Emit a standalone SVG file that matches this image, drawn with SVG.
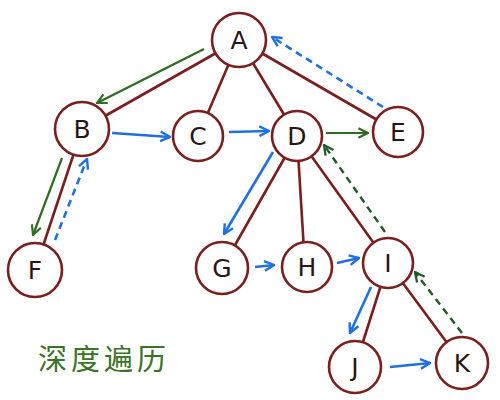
<svg xmlns="http://www.w3.org/2000/svg" width="500" height="400" viewBox="0 0 500 400">
<style>
.edge{stroke:#7a1e1e;stroke-width:2.6;fill:none;stroke-linecap:round}
.node circle{fill:#fff;stroke:#7a1e1e;stroke-width:2.6}
.node text{font-family:"DejaVu Sans","Liberation Sans",sans-serif;font-size:25px;fill:#2a1414;text-anchor:middle;dominant-baseline:central}
.g{stroke:#2f6b22;stroke-width:2.2;fill:none;marker-end:url(#mg)}
.b{stroke:#1f6fe5;stroke-width:2.6;fill:none;marker-end:url(#mb)}
.bd{stroke:#1f6fe5;stroke-width:2.6;fill:none;stroke-dasharray:7 5;marker-end:url(#mb)}
.gd{stroke:#1f5a26;stroke-width:2.4;fill:none;stroke-dasharray:7 5;marker-end:url(#mgd)}
.title{font-family:"Noto Sans CJK SC",sans-serif;font-size:29px;font-weight:400;fill:#3a7328;letter-spacing:4px}
</style>
<defs>
<marker id="mg" viewBox="0 0 10 10" refX="9" refY="5" markerWidth="12" markerHeight="12" markerUnits="userSpaceOnUse" orient="auto"><path d="M1,1 L9,5 L1,9" fill="none" stroke="#2f6b22" stroke-width="1.8"/></marker>
<marker id="mb" viewBox="0 0 10 10" refX="9" refY="5" markerWidth="12" markerHeight="12" markerUnits="userSpaceOnUse" orient="auto"><path d="M1,1 L9,5 L1,9" fill="none" stroke="#1f6fe5" stroke-width="2"/></marker>
<marker id="mgd" viewBox="0 0 10 10" refX="9" refY="5" markerWidth="12" markerHeight="12" markerUnits="userSpaceOnUse" orient="auto"><path d="M1,1 L9,5 L1,9" fill="none" stroke="#1f5a26" stroke-width="1.9"/></marker>
</defs>
<g id="edges">
<line class="edge" x1="239" y1="40" x2="82" y2="129"/>
<line class="edge" x1="239" y1="40" x2="198" y2="136"/>
<line class="edge" x1="239" y1="40" x2="297" y2="136"/>
<line class="edge" x1="239" y1="40" x2="398" y2="132"/>
<line class="edge" x1="82" y1="129" x2="35" y2="270"/>
<line class="edge" x1="297" y1="136" x2="222" y2="268"/>
<line class="edge" x1="297" y1="136" x2="305" y2="267"/>
<line class="edge" x1="297" y1="136" x2="388" y2="263"/>
<line class="edge" x1="388" y1="263" x2="355" y2="367"/>
<line class="edge" x1="388" y1="263" x2="462" y2="363"/>
</g>
<g id="connectors">
<line class="g" x1="204" y1="49" x2="97" y2="103"/>
<line class="g" x1="62" y1="158" x2="33" y2="235"/>
<line class="bd" x1="55" y1="240" x2="87" y2="159"/>
<line class="b" x1="112" y1="133" x2="170" y2="137"/>
<line class="b" x1="229" y1="132" x2="269" y2="131"/>
<line class="g" x1="326" y1="133" x2="368" y2="133"/>
<line class="bd" x1="383" y1="107" x2="272" y2="37"/>
<line class="b" x1="273" y1="152" x2="224" y2="234"/>
<line class="b" x1="255" y1="267" x2="274" y2="265"/>
<line class="b" x1="337" y1="263" x2="359" y2="258"/>
<line class="gd" x1="385" y1="232" x2="324" y2="145"/>
<line class="b" x1="371" y1="287" x2="350" y2="333"/>
<line class="b" x1="390" y1="367" x2="430" y2="363"/>
<line class="gd" x1="462" y1="333" x2="415" y2="272"/>
</g>
<g id="A" class="node"><circle cx="239" cy="40" r="27"/><text x="239" y="40">A</text></g>
<g id="B" class="node"><circle cx="82" cy="129" r="27"/><text x="82" y="129">B</text></g>
<g id="C" class="node"><circle cx="198" cy="136" r="25"/><text x="198" y="136">C</text></g>
<g id="D" class="node"><circle cx="297" cy="136" r="25"/><text x="297" y="136">D</text></g>
<g id="E" class="node"><circle cx="398" cy="132" r="25"/><text x="398" y="132">E</text></g>
<g id="F" class="node"><circle cx="35" cy="270" r="27"/><text x="35" y="270">F</text></g>
<g id="G" class="node"><circle cx="222" cy="268" r="26"/><text x="222" y="268">G</text></g>
<g id="H" class="node"><circle cx="307" cy="267" r="25"/><text x="307" y="267">H</text></g>
<g id="I" class="node"><circle cx="388" cy="263" r="25"/><text x="388" y="263">I</text></g>
<g id="J" class="node"><circle cx="355" cy="367" r="26"/><text x="355" y="367">J</text></g>
<g id="K" class="node"><circle cx="462" cy="363" r="26"/><text x="462" y="363">K</text></g>
<text class="title" x="38" y="370">深度遍历</text>
</svg>
